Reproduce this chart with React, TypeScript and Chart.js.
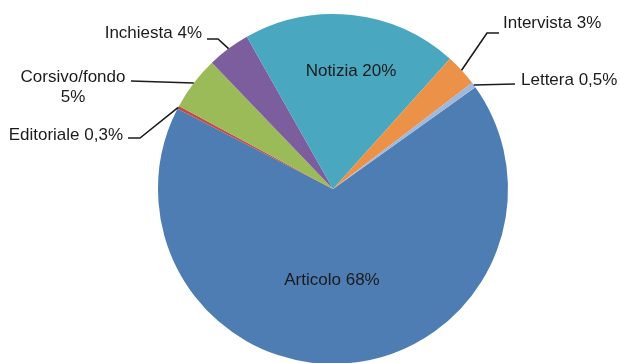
import React, { useEffect, useRef } from "react";
import { Chart, registerables } from "chart.js";

Chart.register(...registerables);

const categories = ["Articolo", "Editoriale", "Corsivo/fondo", "Inchiesta", "Notizia", "Intervista", "Lettera"];
const values = [68, 0.3, 5, 4, 20, 3, 0.5];
const valueLabels = ["68%", "0,3%", "5%", "4%", "20%", "3%", "0,5%"];
const colors = ["#4E7DB3", "#C44B47", "#9BBB59", "#7C5E9F", "#4AA7C0", "#EB9248", "#9EB8DE"];

// label layout: text anchor, alignment, optional elbow and line end near the text
type LabelLayout = {
  lines: string[];
  x: number;
  y: number;
  align: CanvasTextAlign;
  inside?: boolean;
  elbow?: [number, number];
  lineEnd?: [number, number];
};

const layout: LabelLayout[] = [
  { lines: ["Articolo 68%"], x: 332, y: 280, align: "center", inside: true },
  { lines: ["Editoriale 0,3%"], x: 123, y: 135, align: "right", elbow: [140, 138], lineEnd: [128, 138] },
  { lines: ["Corsivo/fondo", "5%"], x: 73, y: 77, align: "center", lineEnd: [131, 81] },
  { lines: ["Inchiesta 4%"], x: 202, y: 33, align: "right", elbow: [218, 39], lineEnd: [207, 39] },
  { lines: ["Notizia 20%"], x: 351, y: 71, align: "center", inside: true },
  { lines: ["Intervista 3%"], x: 503, y: 23, align: "left", elbow: [487, 33], lineEnd: [499, 33] },
  { lines: ["Lettera 0,5%"], x: 521, y: 80, align: "left", lineEnd: [515, 84] },
];

const labelPlugin = {
  id: "pieLabels",
  afterDraw(chart: any) {
    const ctx = chart.ctx as CanvasRenderingContext2D;
    const meta = chart.getDatasetMeta(0);
    ctx.save();
    ctx.font = '17px "Liberation Sans", Arial, sans-serif';
    ctx.fillStyle = "#1b1b1b";
    ctx.textBaseline = "middle";
    meta.data.forEach((arc: any, i: number) => {
      const l = layout[i];
      if (!l) return;
      if (l.lineEnd) {
        const mid = (arc.startAngle + arc.endAngle) / 2;
        const ex = arc.x + Math.cos(mid) * arc.outerRadius;
        const ey = arc.y + Math.sin(mid) * arc.outerRadius;
        ctx.beginPath();
        ctx.strokeStyle = "#1b1b1b";
        ctx.lineWidth = 1.6;
        ctx.moveTo(ex, ey);
        if (l.elbow) ctx.lineTo(l.elbow[0], l.elbow[1]);
        ctx.lineTo(l.lineEnd[0], l.lineEnd[1]);
        ctx.stroke();
      }
      ctx.textAlign = l.align;
      l.lines.forEach((t, k) => {
        ctx.fillText(t, l.x, l.y + k * 20);
      });
    });
    ctx.restore();
  },
};

export default function App() {
  const ref = useRef<HTMLCanvasElement>(null);
  useEffect(() => {
    if (!ref.current) return;
    const total = values.reduce((a, b) => a + b, 0);
    const before = values.slice(0, 4).reduce((a, b) => a + b, 0);
    const rotation = 330.5 - (before / total) * 360;
    const chart = new Chart(ref.current, {
      type: "pie",
      data: {
        labels: categories.map((c, i) => `${c} ${valueLabels[i]}`),
        datasets: [
          {
            data: values,
            backgroundColor: colors,
            borderWidth: 0,
          },
        ],
      },
      options: {
        responsive: false,
        animation: false,
        rotation,
        layout: { padding: { left: 158, right: 112, top: 14, bottom: 16 } },
        plugins: { legend: { display: false }, tooltip: { enabled: false } },
      },
      plugins: [labelPlugin],
    });
    return () => chart.destroy();
  }, []);
  return (
    <div style={{ position: "fixed", left: 0, top: 0, width: 620, height: 363, overflow: "hidden", background: "#fff" }}>
      <canvas ref={ref} width={620} height={380} style={{ display: "block" }} />
    </div>
  );
}
